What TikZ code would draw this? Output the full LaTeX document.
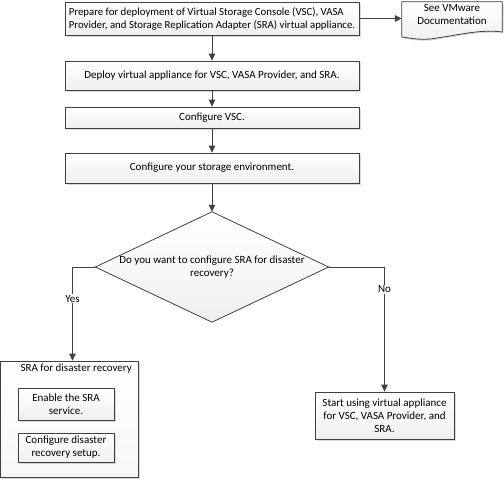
\documentclass[tikz,border=0pt]{standalone}
\usepackage{fontspec}
\setmainfont{Carlito}
\usetikzlibrary{arrows.meta,shadows}
\definecolor{ln}{HTML}{404040}
\tikzset{
  txt/.style={font=\fontsize{11}{13}\selectfont},
  box/.style={draw=ln, line width=0.8pt, top color=white, bottom color=gray!12, drop shadow={shadow xshift=1.5pt, shadow yshift=-1.5pt, opacity=0.3, fill=gray}, inner sep=2pt, align=center, txt},
  arr/.style={draw=ln, line width=0.8pt, -{Triangle[length=7pt,width=6.5pt]}},
  lbl/.style={fill=white, inner sep=1pt, txt}
}
\begin{document}
\begin{tikzpicture}[x=1pt,y=-1pt]
\useasboundingbox (0,0) rectangle (504,480);
\node[box, minimum width=294pt, minimum height=33pt, align=left, font=\fontsize{10.8}{13}\selectfont] (b1) at (212,18.5) {Prepare for deployment of Virtual Storage Console (VSC), VASA\\Provider, and Storage Replication Adapter (SRA) virtual appliance.};
\node[minimum width=100pt, minimum height=33pt, inner sep=0pt] (doc) at (452,18.5) {};
\fill[gray, opacity=0.3] ([xshift=1.5pt,yshift=-1.5pt]doc.north west) -- ([xshift=1.5pt,yshift=-1.5pt]doc.north east) -- ([xshift=1.5pt]doc.east |- 0,33.5) .. controls (480,30.5) and (460,36.5) .. (430,40.5) .. controls (418,41.5) and (410,39.5) .. (403.5,38.5) -- cycle;
\path[draw=ln, line width=0.8pt, top color=white, bottom color=gray!12] (doc.north west) -- (doc.north east) -- (doc.east |- 0,32) .. controls (480,29) and (460,35) .. (430,39) .. controls (418,40) and (410,38) .. (doc.west |- 0,37) -- cycle;
\node[txt, align=center] (doctext) at ([yshift=4pt]doc.center) {See VMware\\Documentation};
\node[box, minimum width=294pt, minimum height=29pt] (b2) at (212,75.5) {Deploy virtual appliance for VSC, VASA Provider, and SRA.};
\node[box, minimum width=294pt, minimum height=21pt] (b3) at (212,117.5) {Configure VSC.};
\node[box, minimum width=294pt, minimum height=30pt] (b4) at (212,168) {Configure your storage environment.};
\node[minimum width=233pt, minimum height=110pt, inner sep=0pt] (dia) at (212,267) {};
\path[draw=ln, line width=0.8pt, top color=white, bottom color=gray!12] (dia.north) -- (dia.east) -- (dia.south) -- (dia.west) -- cycle;
\node[txt, align=center] (diatext) at (dia.center) {Do you want to configure SRA for disaster\\recovery?};
\node[box, minimum width=138pt, minimum height=116pt, bottom color=gray!6] (sra) at (69.5,419) {};
\node[txt, anchor=east, inner sep=0pt] (sratitle) at (132,369) {SRA for disaster recovery};
\node[box, minimum width=96pt, minimum height=32pt] (en) at (66,404) {Enable the SRA\\service.};
\node[box, minimum width=96pt, minimum height=29pt] (cd) at (66,447.5) {Configure disaster\\recovery setup.};
\node[box, minimum width=139pt, minimum height=47pt] (st) at (384.5,415.5) {Start using virtual appliance\\for VSC, VASA Provider, and\\SRA.};
\draw[arr] (b1) -- (doc);
\draw[arr] (b1) -- (b2);
\draw[arr] (b2) -- (b3);
\draw[arr] (b3) -- (b4);
\draw[arr] (b4) -- (dia);
\draw[arr] (dia.west) -| ([xshift=3pt]sra.north) node[lbl, pos=0.67] (yes) {Yes};
\draw[arr] (dia.east) -| (st.north) node[lbl, pos=0.59] (no) {No};
\end{tikzpicture}
\end{document}
